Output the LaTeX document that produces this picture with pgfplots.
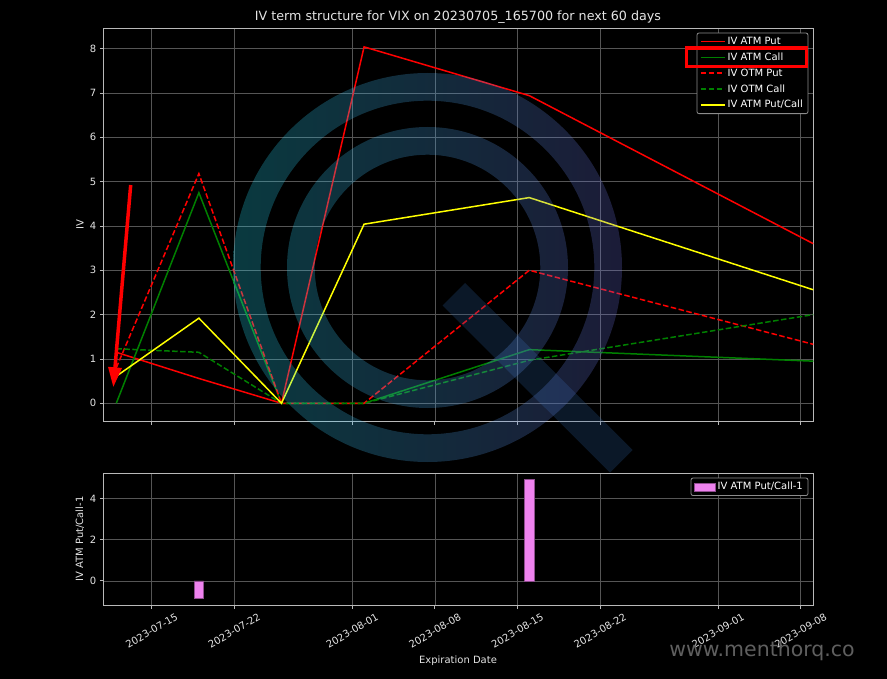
\documentclass[border=0pt]{standalone}
\usepackage{pgfplots}
\pgfplotsset{compat=1.18}
\usepackage{fontspec}
\setmainfont{DejaVu Sans}
\usetikzlibrary{arrows.meta}
\definecolor{gridc}{RGB}{85,85,85}
\definecolor{spine}{RGB}{185,185,185}
\definecolor{tickc}{RGB}{228,228,228}
\definecolor{wmteal}{RGB}{40,232,255}
\definecolor{wmnavy}{RGB}{112,112,224}
\definecolor{wmbar}{RGB}{44,96,160}
\definecolor{pviolet}{RGB}{238,130,238}
\definecolor{mgreen}{RGB}{0,128,0}
\definecolor{mred}{RGB}{255,0,0}
\definecolor{myellow}{RGB}{255,255,0}
\definecolor{legframe}{RGB}{140,140,140}
\pgfplotsset{
  darkstyle/.style={
    scale only axis,
    axis line style={spine, line width=0.8pt},
    grid=major, grid style={gridc, line width=0.7pt},
    tick style={spine, line width=0.8pt},
    tick align=outside, xtick pos=bottom, ytick pos=left,
    major tick length=3.5pt,
    ticklabel style={text=tickc, font=\fontsize{10}{12}\selectfont},
    label style={text=tickc, font=\fontsize{10}{12}\selectfont},
    xmin=9.9, xmax=70.07,
    xtick={14,21,31,38,45,52,62,69},
    /pgf/number format/assume math mode=true,
    legend cell align=left,
  }
}
\newcommand{\rl}[1]{\rotatebox{30}{#1}}
\begin{document}
\color{white}%
\begin{tikzpicture}
\fill[black] (0pt,0pt) rectangle (887pt,-679pt);
\node[text=tickc, font=\fontsize{12.7}{15}\selectfont] at (458pt,-17pt) {IV term structure for VIX on 20230705\_165700 for next 60 days};
\begin{axis}[darkstyle,
  at={(103.3pt,-28.7pt)}, anchor=north west,
  width=710pt, height=392.3pt,
  ymin=-0.4, ymax=8.45, ytick={0,1,...,8},
  xticklabels={},
  ylabel={IV},
  ylabel style={at={(axis description cs:-0.033,0.5)}, anchor=center},
  legend style={name=topleg, at={(0.9925,0.989)}, anchor=north east, fill=black, draw=none,
    font=\fontsize{10}{12}\selectfont, row sep=2.8pt, inner xsep=3pt},
  legend image code/.code={\draw[sharp corners, line width=1.5pt, #1] (0pt,0pt) -- (24pt,0pt);},
]
\addplot[color=mred, line width=1.5pt] coordinates {(11,1.15)(18,0.56)(25,0)(32,8.04)(46,6.94)(70.07,3.60)};
\addlegendentry{IV ATM Put}
\addplot[color=mgreen, line width=1.5pt] coordinates {(11,0)(18,4.75)(25,0)(32,0)(46,1.21)(70.07,0.95)};
\addlegendentry{IV ATM Call}
\addplot[color=mred, line width=1.5pt, dash pattern=on 5.5pt off 2.5pt] coordinates {(11,0.8)(18,5.18)(25,0)(32,0)(46,3.0)(70.07,1.33)};
\addlegendentry{IV OTM Put}
\addplot[color=mgreen, line width=1.5pt, dash pattern=on 5.5pt off 2.5pt] coordinates {(11,1.23)(18,1.15)(25,0)(32,0)(46,0.97)(70.07,2.0)};
\addlegendentry{IV OTM Call}
\addplot[color=myellow, line width=1.5pt] coordinates {(11,0.61)(18,1.92)(25,0)(32,4.04)(46,4.64)(70.07,2.56)};
\addlegendentry{IV ATM Put/Call}
\end{axis}
\draw[legframe, line width=0.8pt, rounded corners=2pt] (topleg.south west) rectangle (topleg.north east);
\begin{axis}[darkstyle,
  at={(103.3pt,-473.3pt)}, anchor=north west,
  width=710pt, height=131.7pt,
  ymin=-1.17, ymax=5.22, ytick={0,2,4},
  xticklabels={\rl{2023-07-15},\rl{2023-07-22},\rl{2023-08-01},\rl{2023-08-08},\rl{2023-08-15},\rl{2023-08-22},\rl{2023-09-01},\rl{2023-09-08}},
  xticklabel style={anchor=north, yshift=-1pt},
  xlabel={Expiration Date},
  xlabel style={at={(axis description cs:0.4996,-0.425)}, anchor=center},
  ylabel={IV ATM Put/Call-1},
  ylabel style={at={(axis description cs:-0.033,0.5)}, anchor=center},
  legend style={name=botleg, at={(0.9925,0.964)}, anchor=north east, fill=black, draw=none,
    font=\fontsize{10}{12}\selectfont, inner xsep=3pt},
  legend image code/.code={\fill[sharp corners, #1] (0pt,-4pt) rectangle (21pt,4pt);},
]
\addplot[ybar, bar width=0.8, fill=pviolet, draw=pviolet!60!black, line width=0.5pt] coordinates {(18,-0.86)(46,4.93)};
\addlegendentry{IV ATM Put/Call-1}
\end{axis}
\draw[legframe, line width=0.8pt, rounded corners=2pt] (botleg.south west) rectangle (botleg.north east);
% watermark
\begin{scope}[fill opacity=0.25]
\fill[wmbar] (465.1pt,-282.9pt) -- (632.6pt,-450pt) -- (610pt,-472.6pt) -- (442.5pt,-305.5pt) -- cycle;
\shade[left color=wmteal, right color=wmnavy, even odd rule] (427.5pt,-267.5pt) circle (194.5pt) circle (166.8pt) circle (140.5pt) circle (112.8pt);
\end{scope}
% annotations
\draw[mred, line width=3.5pt, -{Triangle[length=20pt,width=13pt]}] (130.7pt,-185pt) -- (113.3pt,-387.3pt);
\draw[mred, line width=3.3pt] (686.7pt,-48pt) rectangle (806.7pt,-66.3pt);
\node[text={rgb,255:red,95;green,95;blue,95}, font=\fontsize{20.5}{24}\selectfont] at (762pt,-651pt) {www.menthorq.co};
\end{tikzpicture}
\end{document}
